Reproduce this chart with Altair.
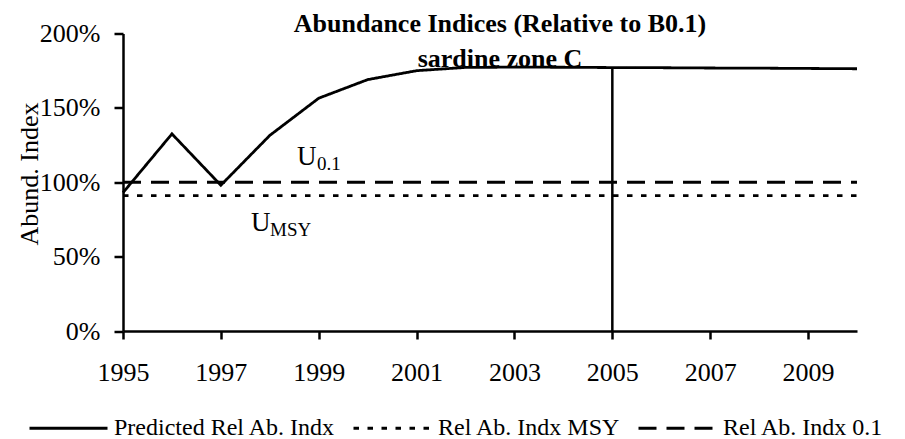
import altair as alt
import pandas as pd

# ---- data ----
years = list(range(1995, 2011))
predicted = [93, 132.5, 98, 131.5, 156.5, 169, 175, 177.2, 177.4, 177.3,
             177.1, 177.0, 176.8, 176.7, 176.5, 176.3]
pred_name = "Predicted Rel Ab. Indx"
ref_names = ["Rel Ab. Indx MSY", "Rel Ab. Indx  0.1"]
ref_values = [91, 100]
current_year = 2005
x_ticks = [1995, 1997, 1999, 2001, 2003, 2005, 2007, 2009]
y_ticks = [0, 50, 100, 150, 200]
title_lines = ["Abundance Indices (Relative to B0.1)", "sardine zone C"]
annot_main = ["U", "U"]
annot_sub = ["0.1", "MSY"]
y_title = "Abund. Index"

FONT = "Liberation Serif"
series_names = [pred_name] + ref_names

rows = [{"year": y, "value": v, "series": pred_name} for y, v in zip(years, predicted)]
for n, v in zip(ref_names, ref_values):
    rows.append({"year": years[0], "value": v, "series": n})
    rows.append({"year": years[-1], "value": v, "series": n})
df = pd.DataFrame(rows)

rule_df = pd.DataFrame({"year": [current_year], "y0": [0],
                        "y1": [predicted[years.index(current_year)]]})

x_enc = alt.X("year:Q",
              scale=alt.Scale(domain=[years[0], years[-1]], nice=False, zero=False),
              axis=alt.Axis(values=x_ticks, format="d", title=None, tickSize=8,
                            labelPadding=20, labelFontSize=26, labelFlush=False,
                            labelOverlap=False))
y_enc = alt.Y("value:Q",
              scale=alt.Scale(domain=[0, 200], nice=False),
              axis=alt.Axis(values=y_ticks, labelExpr="datum.value + '%'",
                            title=y_title, tickSize=9, labelPadding=14,
                            labelFontSize=26, titleFontSize=26,
                            titleFontWeight="normal", titleX=-86, titleY=140,
                            titleAlign="center", titleBaseline="alphabetic",
                            titleAngle=270, labelFlush=False, labelOverlap=False))

lines = alt.Chart(df).mark_line(color="black", strokeWidth=2.8).encode(
    x=x_enc,
    y=y_enc,
    strokeDash=alt.StrokeDash(
        "series:N",
        scale=alt.Scale(domain=series_names, range=[[1, 0], [5.5, 8.5], [18, 10]]),
        legend=alt.Legend(title=None, orient="none", legendX=-95, legendY=354,
                          direction="horizontal", symbolType="stroke",
                          symbolSize=6084, symbolStrokeWidth=3,
                          symbolStrokeColor="black", labelFont=FONT,
                          labelFontSize=24, labelColor="black", labelOffset=5,
                          columnPadding=11, padding=0, labelLimit=500),
    ),
)

rule = alt.Chart(rule_df).mark_rule(color="black", strokeWidth=2.5).encode(
    x="year:Q", y="y0:Q", y2="y1:Q")


def txt(text, x, y, size, weight="normal", align="left"):
    return alt.Chart(pd.DataFrame({"t": [text]})).mark_text(
        font=FONT, fontSize=size, fontWeight=weight, align=align,
        baseline="alphabetic", color="black").encode(
        x=alt.value(x), y=alt.value(y), text="t:N")


title1 = txt(title_lines[0], 377, -1.5, 26, "bold", "center")
title2 = txt(title_lines[1], 377, 33.5, 26, "bold", "center")
u1 = txt(annot_main[0], 174, 131.5, 27)
u1s = txt(annot_sub[0], 194, 136.5, 19)
u2 = txt(annot_main[1], 128, 197.5, 27)
u2s = txt(annot_sub[1], 147, 202.5, 19)

chart = alt.layer(lines, rule, u1, u1s, u2, u2s, title1, title2).properties(
    width=734, height=297.5,
    autosize=alt.AutoSizeParams(type="none"),
    padding={"left": 115, "top": 25.5, "right": 40, "bottom": 108},
).configure_view(stroke=None).configure_axis(
    grid=False, domainColor="black", domainWidth=2.5, tickColor="black",
    tickWidth=2.5, labelColor="black", labelFont=FONT, titleFont=FONT,
    titleColor="black",
)

chart.save("out.html", embed_options={"renderer": "svg", "actions": False})
